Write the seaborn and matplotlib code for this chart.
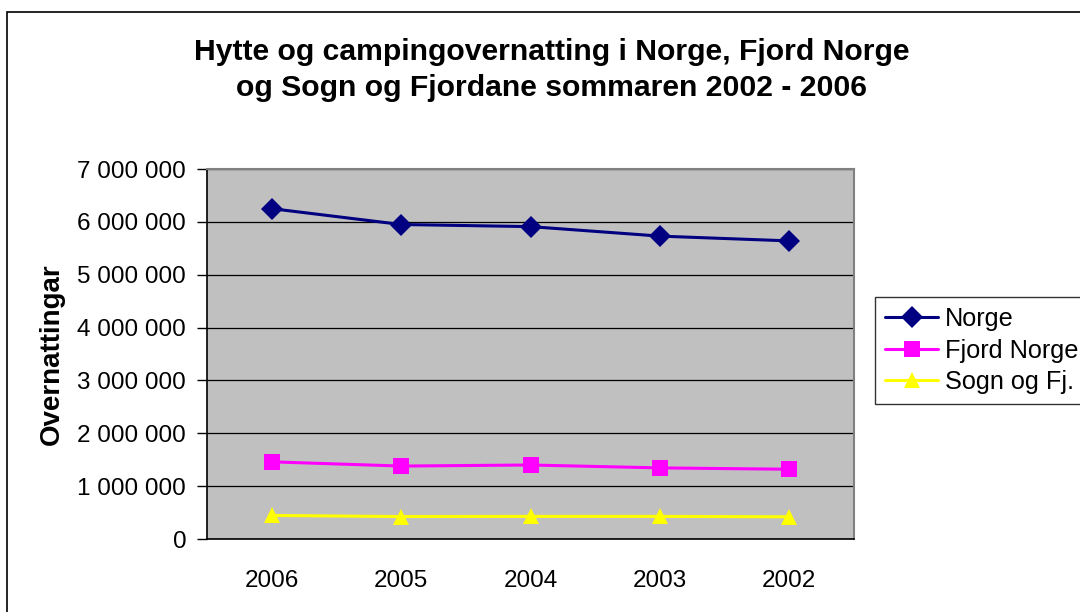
import matplotlib
matplotlib.use("Agg")
import matplotlib.pyplot as plt
import seaborn as sns
import pandas as pd
from matplotlib.ticker import FuncFormatter, FixedLocator

years = ["2006", "2005", "2004", "2003", "2002"]
norge = [6250000, 5950000, 5910000, 5730000, 5640000]
fjord_norge = [1460000, 1380000, 1400000, 1345000, 1320000]
sogn_fj = [445000, 425000, 428000, 428000, 420000]
series_names = ["Norge", "Fjord Norge", "Sogn og Fj."]

rows = []
for name, vals in zip(series_names, [norge, fjord_norge, sogn_fj]):
    for i, v in enumerate(vals):
        rows.append({"pos": i, "serie": name, "verdi": v})
df = pd.DataFrame(rows)

sns.set_theme(style="white")
plt.rcParams["font.family"] = ["Liberation Sans", "DejaVu Sans"]
plt.rcParams["text.color"] = "black"
plt.rcParams["axes.labelcolor"] = "black"

fig = plt.figure(figsize=(10.8, 6.12), dpi=100)
fig.patch.set_facecolor("white")
W, H = 1080, 612
# outer chart border
fig.add_artist(plt.Rectangle((7 / W, 0 - 0.01), 1.1, (H - 12) / H + 0.01,
                             transform=fig.transFigure, fill=False,
                             edgecolor="black", linewidth=1.2))

ax = fig.add_axes([207 / W, (H - 539) / H, (854 - 207) / W, (539 - 169) / H])
ax.set_facecolor("#C0C0C0")

palette = {"Norge": "#000080", "Fjord Norge": "#FF00FF", "Sogn og Fj.": "#FFFF00"}
markers = {"Norge": "D", "Fjord Norge": "s", "Sogn og Fj.": "^"}
sns.lineplot(data=df, x="pos", y="verdi", hue="serie", style="serie",
             palette=palette, markers=markers, dashes=False,
             markersize=11, linewidth=2.2, markeredgewidth=0, ax=ax, legend=False)

ax.set_xlim(-0.5, 4.5)
ax.set_ylim(0, 7000000)
ax.yaxis.set_major_locator(FixedLocator([i * 1000000 for i in range(8)]))
ax.yaxis.set_major_formatter(FuncFormatter(lambda v, p: f"{int(v):,}".replace(",", " ")))
ax.grid(axis="y", color="black", linewidth=0.9)
ax.set_axisbelow(True)

ax.set_xticks(range(len(years)))
ax.set_xticklabels(years)
ax.set_xticks([i - 0.5 for i in range(len(years) + 1)], minor=True)
ax.tick_params(axis="x", which="major", length=0, pad=22, labelsize=17.5, colors="black")
ax.tick_params(axis="x", which="minor", length=7, width=1, color="black", direction="out")
ax.tick_params(axis="y", which="major", length=7, width=1, color="black", direction="out",
               left=True, pad=8, labelsize=17.5, colors="black")
ax.set_xlabel("")
ax.set_ylabel("Overnattingar", fontsize=20, fontweight="bold", labelpad=9, color="black")

for s in ["top", "right"]:
    ax.spines[s].set_color("#808080")
    ax.spines[s].set_linewidth(1.5)
for s in ["left", "bottom"]:
    ax.spines[s].set_color("black")
    ax.spines[s].set_linewidth(1.2)

fig.text(552 / W, 1 - 70 / H, "Hytte og campingovernatting i Norge, Fjord Norge\nog Sogn og Fjordane sommaren 2002 - 2006",
         ha="center", va="center", fontsize=21.7, fontweight="bold", linespacing=1.38, color="black")

handles = [plt.Line2D([], [], color=palette[n], marker=markers[n], markersize=11,
                      linewidth=2.2, markeredgewidth=0) for n in series_names]
leg = fig.legend(handles, series_names, loc="upper left",
                 bbox_to_anchor=(875 / W, 1 - 297 / H), frameon=True,
                 fontsize=18.2, handlelength=2.1, handletextpad=0.25,
                 borderpad=0.4, labelspacing=0.3, borderaxespad=0, fancybox=False)
leg.get_frame().set_edgecolor("black")
leg.get_frame().set_linewidth(1.0)
leg.get_frame().set_facecolor("white")
for t in leg.get_texts():
    t.set_color("black")

fig.savefig("out.png", dpi=100)
